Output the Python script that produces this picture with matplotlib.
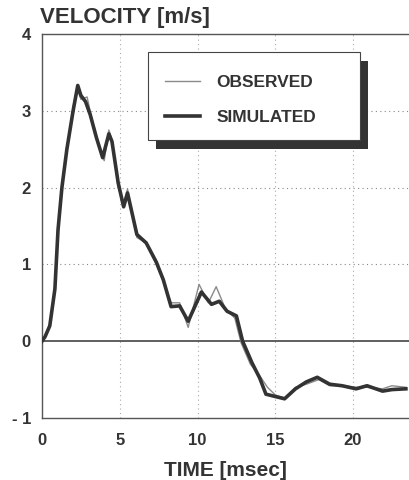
import matplotlib
matplotlib.use("Agg")
import matplotlib.pyplot as plt
from matplotlib.patches import Rectangle

# Data
t_sim = [0, 0.2, 0.5, 0.83, 1.03, 1.28, 1.6, 2.0, 2.3, 2.5, 2.8, 3.1, 3.5, 3.9, 4.3, 4.5,
         4.9, 5.25, 5.5, 6.1, 6.7, 7.35, 7.8, 8.3, 8.85, 9.4, 10.25, 10.9, 11.4, 11.9, 12.5,
         12.9, 13.5, 14.0, 14.4, 14.8, 15.6, 16.3, 17.0, 17.7, 18.5, 19.3, 20.2, 20.9, 21.9,
         22.5, 23.4]
v_sim = [0, 0.06, 0.2, 0.68, 1.45, 2.0, 2.5, 3.0, 3.33, 3.2, 3.12, 2.95, 2.65, 2.39, 2.7, 2.6,
         2.06, 1.75, 1.93, 1.39, 1.28, 1.03, 0.8, 0.45, 0.46, 0.26, 0.64, 0.48, 0.52, 0.39, 0.33,
         0.0, -0.28, -0.48, -0.69, -0.71, -0.75, -0.62, -0.53, -0.47, -0.56, -0.58, -0.62, -0.58,
         -0.65, -0.63, -0.62]

t_obs = [0, 0.2, 0.5, 0.83, 1.03, 1.28, 1.6, 2.0, 2.25, 2.5, 2.9, 3.2, 3.6, 4.0, 4.3, 4.5,
         4.9, 5.25, 5.5, 6.1, 6.7, 7.35, 7.8, 8.3, 8.85, 9.4, 10.1, 10.7, 11.2, 11.8, 12.4,
         12.8, 13.4, 14.0, 14.5, 15.0, 15.6, 16.3, 17.0, 17.8, 18.5, 19.3, 20.2, 20.9, 21.9,
         22.5, 23.4]
v_obs = [0, 0.05, 0.22, 0.7, 1.45, 2.0, 2.5, 3.05, 3.3, 3.15, 3.18, 2.9, 2.6, 2.35, 2.75, 2.62,
         2.0, 1.8, 1.98, 1.35, 1.28, 1.0, 0.78, 0.5, 0.5, 0.18, 0.74, 0.5, 0.71, 0.42, 0.3,
         -0.02, -0.3, -0.45, -0.6, -0.7, -0.74, -0.6, -0.56, -0.5, -0.58, -0.58, -0.6, -0.6,
         -0.62, -0.58, -0.6]

x_ticks = [0, 5, 10, 15, 20]
y_ticks = [-1, 0, 1, 2, 3, 4]
y_tick_labels = ["- 1", "0", "1", "2", "3", "4"]

plt.rcParams['font.family'] = ['Liberation Sans', 'DejaVu Sans']

fig = plt.figure(figsize=(4.09, 4.8), dpi=100)
ax = fig.add_axes([42/409, 1 - 418/480, 367/409, 384/480])

ax.plot(t_obs, v_obs, color="#8a8a8a", lw=1.0, label="OBSERVED", zorder=3)
ax.plot(t_sim, v_sim, color="#333333", lw=2.6, label="SIMULATED", zorder=4)

ax.set_xlim(0, 23.6)
ax.set_ylim(-1, 4)
ax.axhline(0, color="#444444", lw=1.2, zorder=2)

for x in [5, 10, 15, 20]:
    ax.axvline(x, color="#aaaaaa", lw=0.8, ls=(0, (1, 3)), zorder=1)
for y in [1, 2, 3]:
    ax.axhline(y, color="#888888", lw=0.8, ls=(0, (1, 3)), zorder=1)

ax.set_xticks(x_ticks)
ax.set_xticklabels([str(x) for x in x_ticks], fontsize=12, fontweight="bold", color="#333333")
ax.set_yticks(y_ticks)
ax.set_yticklabels(y_tick_labels, fontsize=12, fontweight="bold", color="#333333")
ax.tick_params(axis="x", length=0, pad=11)
ax.tick_params(axis="y", length=0, pad=8)

ax.spines['right'].set_visible(False)
for s in ['left', 'bottom', 'top']:
    ax.spines[s].set_color("#555555")
    ax.spines[s].set_linewidth(1.0)

fig.text(40/409, 1 - 17/480, "VELOCITY [m/s]", fontsize=16, fontweight="bold",
         color="#333333", ha="left", va="center")
ax.set_xlabel("TIME [msec]", fontsize=15, fontweight="bold", color="#333333", labelpad=9)

# legend box with shadow
lx0, lx1 = (148 - 42) / 367, (360 - 42) / 367
ly1, ly0 = (418 - 52) / 384, (418 - 140) / 384
sh = Rectangle((lx0 + 8/367, ly0 - 9/384), lx1 - lx0, ly1 - ly0, transform=ax.transAxes,
               facecolor="#333333", edgecolor="none", zorder=5)
ax.add_patch(sh)
box = Rectangle((lx0, ly0), lx1 - lx0, ly1 - ly0, transform=ax.transAxes,
                facecolor="white", edgecolor="#444444", lw=0.8, zorder=6)
ax.add_patch(box)
leg = ax.legend(loc="upper left", bbox_to_anchor=((165 - 42) / 367, (418 - 75) / 384),
                frameon=False, fontsize=12.5, handlelength=2.0, borderpad=0,
                labelspacing=1.12, handletextpad=0.95, borderaxespad=0)
leg.set_zorder(7)
for txt in leg.get_texts():
    txt.set_fontweight("bold")
    txt.set_color("#333333")

fig.savefig("out.png", dpi=100, facecolor="white")
